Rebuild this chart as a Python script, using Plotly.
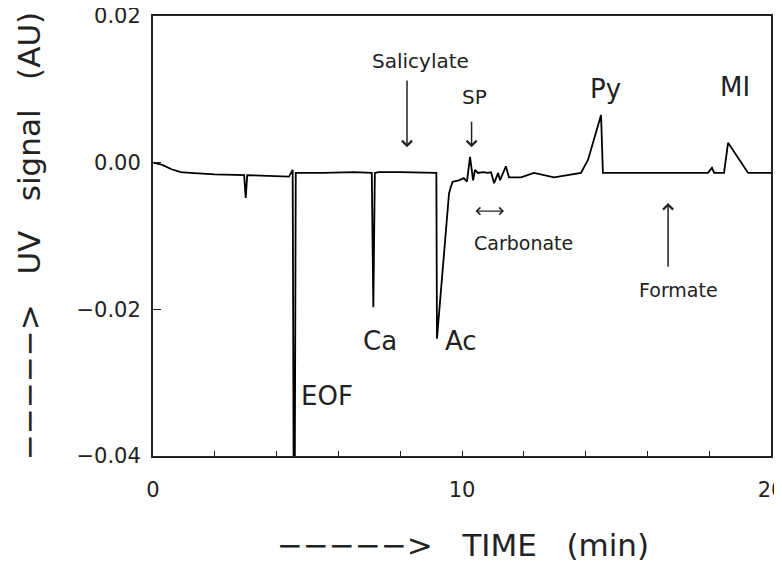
import plotly.graph_objects as go

# Electropherogram trace (time in min, UV signal in AU)
time_min = [0.00, 0.30, 0.60, 0.90, 1.20, 2.00, 2.95, 3.00, 3.05, 3.60, 4.40, 4.52,
            4.55, 4.59, 4.62, 5.50, 6.50, 7.08, 7.13, 7.18, 7.30, 8.00, 9.17, 9.19,
            9.58, 9.64, 9.70, 9.90, 10.06, 10.16, 10.26, 10.36, 10.42, 10.52, 10.68,
            10.84, 10.94, 11.04, 11.17, 11.23, 11.42, 11.52, 11.91, 12.33, 12.98,
            13.85, 14.08, 14.50, 14.56, 17.96, 18.09, 18.16, 18.48, 18.61, 19.26, 20.00]
signal_au = [0.0000, -0.0003, -0.0009, -0.0013, -0.0014, -0.0016, -0.0017, -0.0048,
             -0.0017, -0.0018, -0.0019, -0.0010, -0.0405, -0.0405, -0.0014, -0.0014,
             -0.0013, -0.0014, -0.0197, -0.0014, -0.0013, -0.0013, -0.0014, -0.0240,
             -0.0042, -0.0033, -0.0026, -0.0024, -0.0021, -0.0026, 0.0008, -0.0024,
             -0.0010, -0.0014, -0.0013, -0.0014, -0.0013, -0.0028, -0.0014, -0.0024,
             -0.0005, -0.0020, -0.0020, -0.0014, -0.0020, -0.0014, 0.0004, 0.0065,
             -0.0014, -0.0014, -0.0007, -0.0014, -0.0014, 0.0027, -0.0014, -0.0014]

# Peak labels
label_text = ["EOF", "Ca", "Ac", "Py", "MI", "SP", "Salicylate", "Carbonate", "Formate"]
label_t = [5.63, 7.35, 9.98, 14.64, 18.83, 10.40, 8.67, 11.99, 17.02]
label_v = [-0.0318, -0.0243, -0.0243, 0.0100, 0.0103, 0.0089, 0.0139, -0.0110, -0.0174]
label_size = [26, 26, 26, 26, 26, 20, 20, 19, 19]

# Arrows: head (t, v) and tail (t, v)
arrow_head_t = [10.31, 8.22, 16.67]
arrow_head_v = [0.0021, 0.0021, -0.0055]
arrow_tail_t = [10.31, 8.22, 16.67]
arrow_tail_v = [0.0058, 0.0114, -0.0144]
# Carbonate range (double arrow)
carb_range_t = [10.39, 11.36]
carb_range_v = -0.0066

x_tickvals = [0, 2, 4, 6, 8, 10, 12, 14, 16, 18, 20]
x_ticktext = ["0", "", "", "", "", "10", "", "", "", "", "20"]
y_tickvals = [-0.04, -0.02, 0.00, 0.02]
y_ticktext = ["\u22120.04", "\u22120.02", "0.00", "0.02"]

DASHES = "\u2212\u2212\u2212\u2212\u2212&gt;"
x_title = DASHES + "\u00a0\u00a0\u00a0TIME\u00a0\u00a0\u00a0(min)"
y_title = DASHES + "\u00a0\u00a0\u00a0UV\u00a0\u00a0\u00a0signal\u00a0\u00a0\u00a0(AU)"

FONT = "DejaVu Sans"

fig = go.Figure()
fig.add_trace(go.Scatter(x=time_min, y=signal_au, mode="lines",
                         line=dict(color="black", width=1.8), hoverinfo="skip"))

for txt, t, v, s in zip(label_text, label_t, label_v, label_size):
    fig.add_annotation(x=t, y=v, text=txt, showarrow=False,
                       font=dict(family=FONT, size=s, color="#222"))

for ht, hv, tt, tv in zip(arrow_head_t, arrow_head_v, arrow_tail_t, arrow_tail_v):
    fig.add_annotation(x=ht, y=hv, ax=tt, ay=tv, axref="x", ayref="y",
                       xref="x", yref="y", text="", showarrow=True,
                       arrowhead=4, arrowsize=1.3, arrowwidth=1.5, arrowcolor="#222")

fig.add_annotation(x=carb_range_t[1], y=carb_range_v, ax=carb_range_t[0], ay=carb_range_v,
                   axref="x", ayref="y", xref="x", yref="y", text="", showarrow=True,
                   arrowhead=4, startarrowhead=4, arrowside="end+start",
                   arrowsize=1.1, startarrowsize=1.1, arrowwidth=1.3, arrowcolor="#222")

# Axis titles
fig.add_annotation(xref="paper", yref="paper", x=0.5016, y=-0.2023, text=x_title,
                   showarrow=False, xanchor="center", yanchor="middle",
                   font=dict(family=FONT, size=31, color="#222"))
fig.add_annotation(xref="paper", yref="paper", x=-0.2006, y=0.5, text=y_title,
                   showarrow=False, xanchor="center", yanchor="middle", textangle=-90,
                   font=dict(family=FONT, size=31, color="#222"))

# The page adds an 8px body margin, so the figure is 8px smaller than the window
fig.update_layout(
    width=774, height=555,
    margin=dict(l=145, r=11, t=8, b=107, autoexpand=False),
    plot_bgcolor="white", paper_bgcolor="white",
    showlegend=False,
    font=dict(family=FONT, color="#222"),
    xaxis=dict(range=[0, 20], tickmode="array", tickvals=x_tickvals, ticktext=x_ticktext,
               ticks="inside", ticklen=5, tickwidth=1.2, tickcolor="#222",
               showline=True, linecolor="#222", linewidth=2, mirror=True,
               showgrid=False, zeroline=False, automargin=False,
               ticklabeloverflow="allow",
               tickfont=dict(family=FONT, size=21), ticklabelstandoff=14),
    yaxis=dict(range=[-0.04, 0.02], tickmode="array", tickvals=y_tickvals, ticktext=y_ticktext,
               ticks="inside", ticklen=8, tickwidth=1.2, tickcolor="#222",
               showline=True, linecolor="#222", linewidth=2, mirror=True,
               showgrid=False, zeroline=False, automargin=False,
               ticklabeloverflow="allow",
               tickfont=dict(family=FONT, size=21), ticklabelstandoff=6),
)

fig.write_html("out.html")
